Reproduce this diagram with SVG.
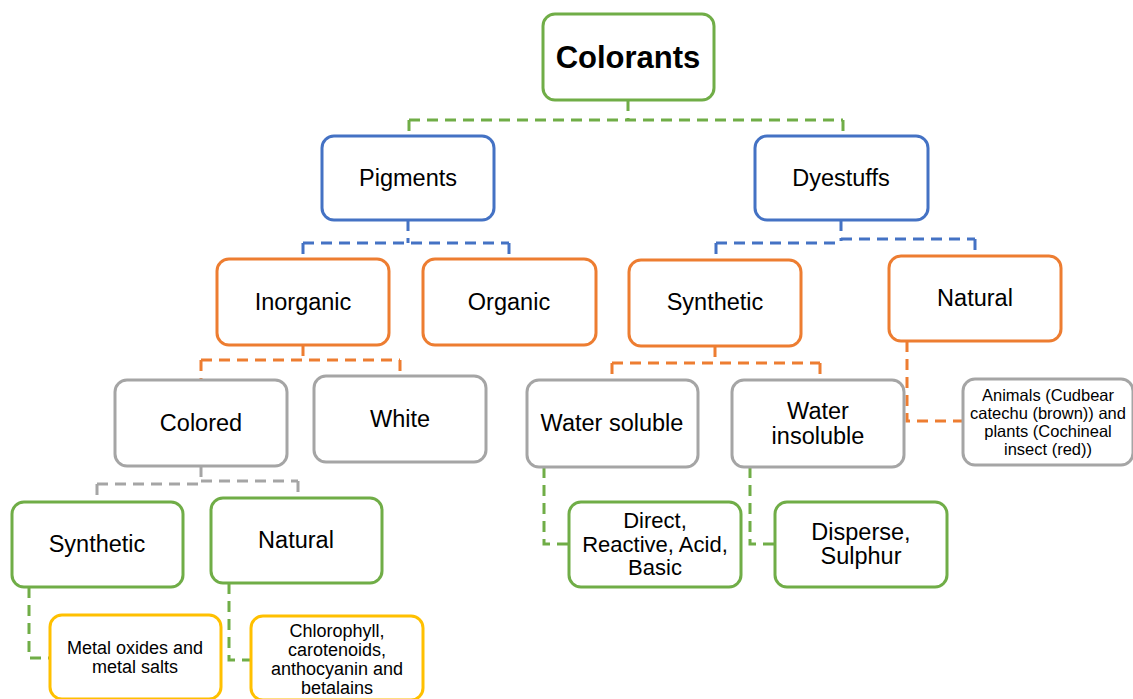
<svg xmlns="http://www.w3.org/2000/svg" width="1133" height="699" viewBox="0 0 1133 699">
<style>
.box{fill:#fff;stroke-width:3}
.g{stroke:#70AD47}.b{stroke:#4472C4}.o{stroke:#ED7D31}.gr{stroke:#A5A5A5}.y{stroke:#FFC000}
text{font-family:"Liberation Sans",Arial,sans-serif;fill:#000;text-anchor:middle;dominant-baseline:central}
.t20{font-size:23.5px}.t22{font-size:22px}.t15{font-size:18px}.t14{font-size:16.5px}
.c{fill:none;stroke-width:3;stroke-dasharray:11 7}
</style>
<rect width="1133" height="699" fill="#fff"/>
<g id="connectors">
<path class="c g" d="M628 100V120M409 120H843M409 120V136M843 120V136"/>
<path class="c b" d="M408 220V243M303 243H509M303 243V259M509 243V259"/>
<path class="c b" d="M841 220V241M716 243H841M841 239H975M716 243V260M975 239V256"/>
<path class="c o" d="M303 345V360M201 360H400M201 360V380M400 360V376"/>
<path class="c o" d="M715 346V363M612 363H820M612 363V381M820 363V381"/>
<path class="c o" d="M907 341V421H963"/>
<path class="c gr" d="M201 466V484M97 484H201M201 481H298M97 484V502M298 481V498"/>
<path class="c g" d="M29 587V658H49"/>
<path class="c g" d="M229 583V660H251"/>
<path class="c g" d="M544 467V544H569"/>
<path class="c g" d="M750 467V544H775"/>
</g>
<g id="colorants"><rect class="box g" x="543" y="14" width="171" height="86" rx="12"/><text x="628" y="57" style="font-size:31px;font-weight:bold">Colorants</text></g>
<g id="pigments"><rect class="box b" x="322" y="136" width="172" height="84" rx="12"/><text class="t20" x="408" y="178">Pigments</text></g>
<g id="dyestuffs"><rect class="box b" x="755" y="136" width="173" height="84" rx="12"/><text class="t20" x="841" y="178">Dyestuffs</text></g>
<g id="inorganic"><rect class="box o" x="217" y="259" width="172" height="86" rx="12"/><text class="t20" x="303" y="302">Inorganic</text></g>
<g id="organic"><rect class="box o" x="423" y="259" width="173" height="86" rx="12"/><text class="t20" x="509" y="302">Organic</text></g>
<g id="synthetic-dye"><rect class="box o" x="629" y="260" width="172" height="86" rx="12"/><text class="t20" x="715" y="302">Synthetic</text></g>
<g id="natural-dye"><rect class="box o" x="889" y="256" width="172" height="85" rx="12"/><text class="t20" x="975" y="298">Natural</text></g>
<g id="colored"><rect class="box gr" x="115" y="380" width="172" height="86" rx="12"/><text class="t20" x="201" y="423">Colored</text></g>
<g id="white"><rect class="box gr" x="314" y="376" width="172" height="86" rx="12"/><text class="t20" x="400" y="419">White</text></g>
<g id="water-soluble"><rect class="box gr" x="527" y="380" width="171" height="87" rx="12"/><text class="t20" x="612" y="423">Water soluble</text></g>
<g id="water-insoluble"><rect class="box gr" x="732" y="380" width="172" height="87" rx="12"/><text class="t20" x="818" y="411">Water</text><text class="t20" x="818" y="436">insoluble</text></g>
<g id="animals"><rect class="box gr" x="963" y="379" width="170" height="86" rx="12"/><text class="t14" x="1048" y="395">Animals (Cudbear</text><text class="t14" x="1048" y="413">catechu (brown)) and</text><text class="t14" x="1048" y="431">plants (Cochineal</text><text class="t14" x="1048" y="449">insect (red))</text></g>
<g id="synthetic-pig"><rect class="box g" x="12" y="502" width="171" height="85" rx="12"/><text class="t20" x="97" y="544">Synthetic</text></g>
<g id="natural-pig"><rect class="box g" x="211" y="498" width="171" height="85" rx="12"/><text class="t20" x="296" y="540">Natural</text></g>
<g id="direct"><rect class="box g" x="569" y="502" width="172" height="85" rx="12"/><text class="t22" x="655" y="520.5">Direct,</text><text class="t22" x="655" y="544">Reactive, Acid,</text><text class="t22" x="655" y="567.5">Basic</text></g>
<g id="disperse"><rect class="box g" x="775" y="502" width="172" height="85" rx="12"/><text class="t20" x="861" y="532">Disperse,</text><text class="t20" x="861" y="556">Sulphur</text></g>
<g id="metal"><rect class="box y" x="50" y="615" width="171" height="84" rx="12"/><text class="t15" x="135" y="648">Metal oxides and</text><text class="t15" x="135" y="667">metal salts</text></g>
<g id="chlorophyll"><rect class="box y" x="251" y="616" width="172" height="84" rx="12"/><text class="t15" x="337" y="631">Chlorophyll,</text><text class="t15" x="337" y="650">carotenoids,</text><text class="t15" x="337" y="669">anthocyanin and</text><text class="t15" x="337" y="688">betalains</text></g>
</svg>
